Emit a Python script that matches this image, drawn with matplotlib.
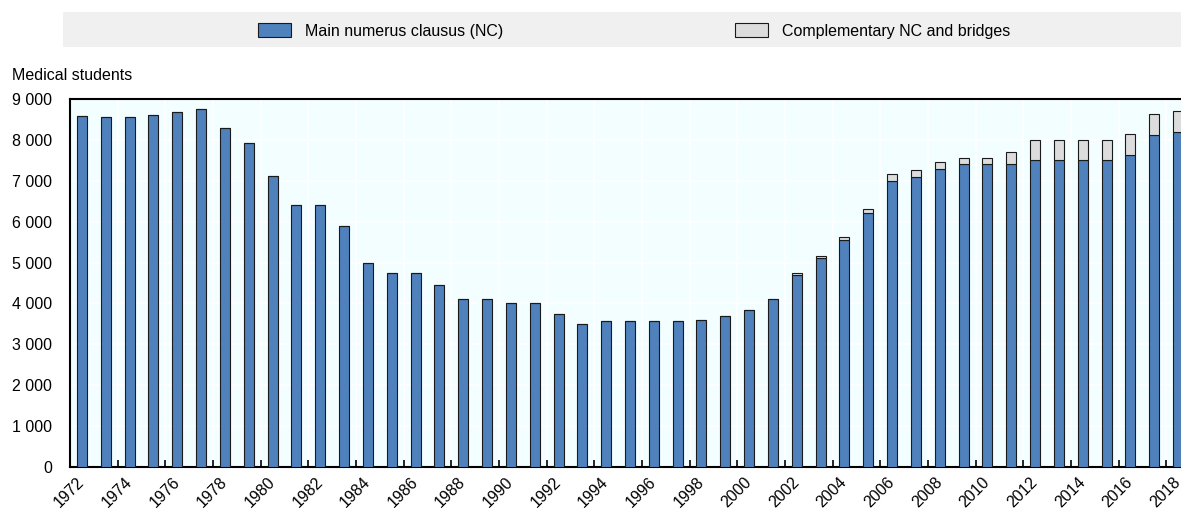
import numpy as np
import matplotlib
matplotlib.use("Agg")
import matplotlib.pyplot as plt
from matplotlib.patches import Rectangle, Patch

plt.rcParams['font.family'] = ['Liberation Sans Narrow', 'Liberation Sans', 'DejaVu Sans']

# data
years = list(range(1972, 2019))
main_nc = [8588, 8571, 8571, 8613, 8671, 8763, 8283, 7913, 7121, 6409,
           6409, 5900, 5000, 4754, 4754, 4460, 4100, 4100, 4000, 4000,
           3750, 3500, 3570, 3576, 3576, 3576, 3583, 3700, 3850, 4100,
           4700, 5100, 5550, 6200, 7000, 7100, 7300, 7400, 7400, 7400,
           7500, 7500, 7500, 7500, 7635, 8124, 8205]
# 1972-2001: no complementary places
compl_nc = [0] * 30 + [50, 60, 70, 100, 160, 160, 170, 160, 165, 300,
                       500, 500, 500, 500, 510, 515, 510]
legend_labels = ["Main numerus clausus (NC)", "Complementary NC and bridges"]

blue = '#4F81BD'
grey = '#DCDCDC'
fs = 11.5

fig = plt.figure(figsize=(11.81, 5.08), dpi=100)
ax = fig.add_axes([70 / 1181, 41 / 508, 1120 / 1181, 368 / 508])
ax.set_facecolor('#F2FEFF')

x = np.array(years)
ax.bar(x, main_nc, width=0.42, color=blue, edgecolor='#1a1a1a', linewidth=0.8, zorder=3)
ax.bar(x, compl_nc, width=0.42, bottom=main_nc, color=grey, edgecolor='#1a1a1a',
       linewidth=0.8, zorder=3)

ax.set_xlim(1971.5, 2018.5)
ax.set_ylim(0, 9000)

# y axis
yt = np.arange(0, 9001, 1000)
ax.set_yticks(yt)
ax.set_yticklabels([f"{v:,}".replace(",", " ") for v in yt], fontsize=fs)
ax.tick_params(axis='y', length=0, pad=13)

# x axis: labels on even years, ticks between bars
ax.set_xticks(years[::2])
ax.set_xticklabels([str(y) for y in years[::2]], rotation=45, ha='right',
                   va='center', rotation_mode='anchor', fontsize=fs)
ax.tick_params(axis='x', which='major', length=0, pad=9)
ax.set_xticks(np.arange(1973.5, 2018, 2), minor=True)
ax.tick_params(axis='x', which='minor', direction='in', length=5, width=1.2,
               color='black')

ax.grid(True, which='minor', axis='x', color='white', linewidth=1.2, zorder=0)
ax.grid(True, which='major', axis='y', color='white', linewidth=1.2, zorder=0)
ax.set_axisbelow(True)

for side in ['left', 'bottom', 'top']:
    ax.spines[side].set_linewidth(1.5)
    ax.spines[side].set_color('black')
ax.spines['right'].set_visible(False)

fig.text(12 / 1181, 1 - 75 / 508, "Medical students", fontsize=fs, va='center', ha='left')

# legend band
fig.patches.append(Rectangle((63 / 1181, 1 - 47 / 508), 1118 / 1181, 35 / 508,
                             transform=fig.transFigure, facecolor='#F0F0F0',
                             edgecolor='none', zorder=0))
fs_px = fs * 100 / 72
handles = [Patch(facecolor=blue, edgecolor='#1a1a1a', linewidth=0.8),
           Patch(facecolor=grey, edgecolor='#1a1a1a', linewidth=0.8)]
for h, lab, x0 in zip(handles, legend_labels, [258, 735]):
    fig.legend([h], [lab], loc='center left',
               bbox_to_anchor=(x0 / 1181, 1 - 31 / 508), frameon=False,
               fontsize=fs, borderpad=0, borderaxespad=0,
               handlelength=33 / fs_px, handleheight=15 / fs_px,
               handletextpad=14 / fs_px)

fig.savefig("out.png", dpi=100)
